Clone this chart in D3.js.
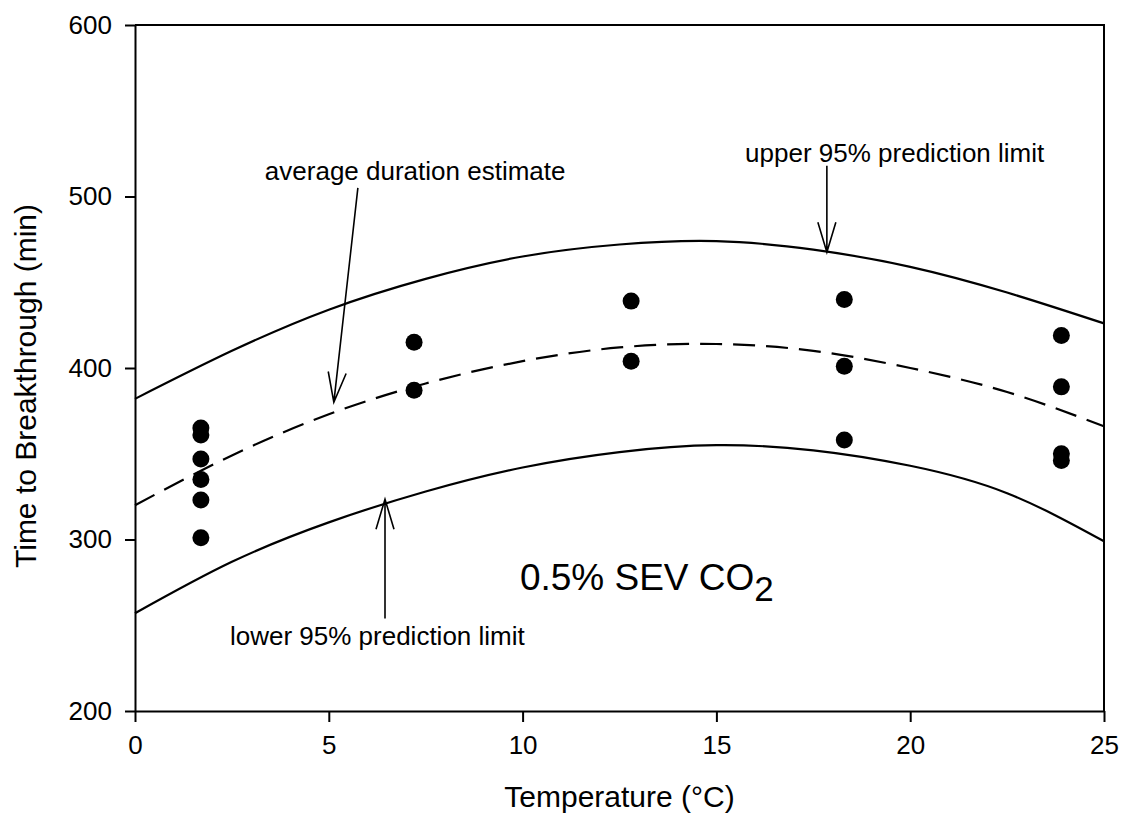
<!DOCTYPE html>
<html>
<head>
<meta charset="utf-8">
<script src="https://cdn.jsdelivr.net/npm/d3@7"></script>
<style>
  body { margin: 0; background: #fff; }
  text { font-family: "Liberation Sans", Arial, sans-serif; fill: #000; }
</style>
</head>
<body>
<svg id="chart" width="1124" height="819"></svg>
<script>
// measured points (temperature, minutes)
const tempPoints = [1.7, 1.7, 1.7, 1.7, 1.7, 1.7, 7.2, 7.2, 12.8, 12.8, 18.3, 18.3, 18.3, 23.9, 23.9, 23.9, 23.9];
const timePoints = [365, 361, 347, 335, 323, 301, 415, 387, 439, 404, 440, 401, 358, 419, 389, 350, 346];

// fitted curve and prediction limits
const curveTemp = [0, 2.5, 5, 7.5, 10, 12.5, 15, 17.5, 20, 22.5, 25];
const meanTime  = [320, 349, 373, 391, 404, 412, 414, 410, 400, 386, 366];
const upperTime = [382, 410, 434, 452, 465, 472, 474, 469, 459, 444, 426];
const lowerTime = [257, 287, 310, 328, 342, 351, 355, 352, 343, 327, 299];

const xTicks = [0, 5, 10, 15, 20, 25];
const yTicks = [200, 300, 400, 500, 600];

const svg = d3.select("svg#chart");
const margin = {left: 135, right: 20, top: 25, bottom: 108};
const width = 1124 - margin.left - margin.right;
const height = 819 - margin.top - margin.bottom;

const x = d3.scaleLinear().domain([0, 25]).range([margin.left, margin.left + width]);
const y = d3.scaleLinear().domain([200, 600]).range([margin.top + height, margin.top]);

// frame (top and right)
svg.append("path")
   .attr("d", `M${x(0)},${y(600)} H${x(25)} V${y(200)}`)
   .attr("fill", "none").attr("stroke", "#000").attr("stroke-width", 2)

// axes
const xAxis = svg.append("g")
   .attr("transform", `translate(0,${y(200)})`)
   .call(d3.axisBottom(x).tickValues(xTicks).tickSize(11).tickPadding(14).tickSizeOuter(0))
const yAxis = svg.append("g")
   .attr("transform", `translate(${x(0)},0)`)
   .call(d3.axisLeft(y).tickValues(yTicks).tickSize(10).tickPadding(13).tickSizeOuter(0))
for (const ax of [xAxis, yAxis]) {
    ax.select(".domain").attr("stroke-width", 2)
    ax.selectAll(".tick line").attr("stroke-width", 2)
    ax.selectAll(".tick text").style("font-size", "26px").attr("fill", "#000")
}

// axis titles
svg.append("text")
   .attr("x", (x(0) + x(25)) / 2).attr("y", 807)
   .attr("text-anchor", "middle").style("font-size", "30px")
   .text("Temperature (°C)")
svg.append("text")
   .attr("transform", "translate(36,386) rotate(-90)")
   .attr("text-anchor", "middle").style("font-size", "30px")
   .text("Time to Breakthrough (min)")

// curves
const line = arr => d3.line()
    .x((d, i) => x(curveTemp[i]))
    .y(d => y(d))
    .curve(d3.curveNatural)(arr);

svg.append("path").attr("d", line(upperTime))
   .attr("fill", "none").attr("stroke", "#000").attr("stroke-width", 2.2)
svg.append("path").attr("d", line(lowerTime))
   .attr("fill", "none").attr("stroke", "#000").attr("stroke-width", 2.2)
svg.append("path").attr("d", line(meanTime))
   .attr("fill", "none").attr("stroke", "#000").attr("stroke-width", 2.2)
   .attr("stroke-dasharray", "22,11")

// points
svg.selectAll("circle.obs").data(tempPoints)
   .join("circle").attr("class", "obs")
   .attr("cx", d => x(d))
   .attr("cy", (d, i) => y(timePoints[i]))
   .attr("r", 8.5)
   .attr("fill", "#000")

// annotations: arrows (from -> tip, in data units)
const arrows = [
    {x1: 5.75, y1: 505, x2: 5.13, y2: 380},
    {x1: 17.85, y1: 518, x2: 17.85, y2: 467.5},
    {x1: 6.45, y1: 254, x2: 6.45, y2: 323.5}
];
const headLen = 30, headHalf = 9;
arrows.forEach(a => {
    const px1 = x(a.x1), py1 = y(a.y1), px2 = x(a.x2), py2 = y(a.y2);
    const ang = Math.atan2(py2 - py1, px2 - px1);
    const bx = px2 - headLen * Math.cos(ang), by = py2 - headLen * Math.sin(ang);
    const nx = -Math.sin(ang) * headHalf, ny = Math.cos(ang) * headHalf;
    svg.append("path")
       .attr("d", `M${px1},${py1} L${px2},${py2} M${bx + nx},${by + ny} L${px2},${py2} L${bx - nx},${by - ny}`)
       .attr("fill", "none").attr("stroke", "#000").attr("stroke-width", 1.6)
});

const labels = [
    {tx: 3.35, ty: 509.5, text: "average duration estimate"},
    {tx: 15.74, ty: 520, text: "upper 95% prediction limit"},
    {tx: 2.45, ty: 238.5, text: "lower 95% prediction limit"}
];
svg.selectAll("text.note").data(labels)
   .join("text").attr("class", "note")
   .attr("x", d => x(d.tx)).attr("y", d => y(d.ty))
   .style("font-size", "26px")
   .text(d => d.text)

const co2 = svg.append("text")
   .attr("x", x(9.93)).attr("y", y(270.5))
   .style("font-size", "37px")
co2.append("tspan").text("0.5% SEV CO")
co2.append("tspan").attr("dy", 11).style("font-size", "35px").text("2")
</script>
</body>
</html>
